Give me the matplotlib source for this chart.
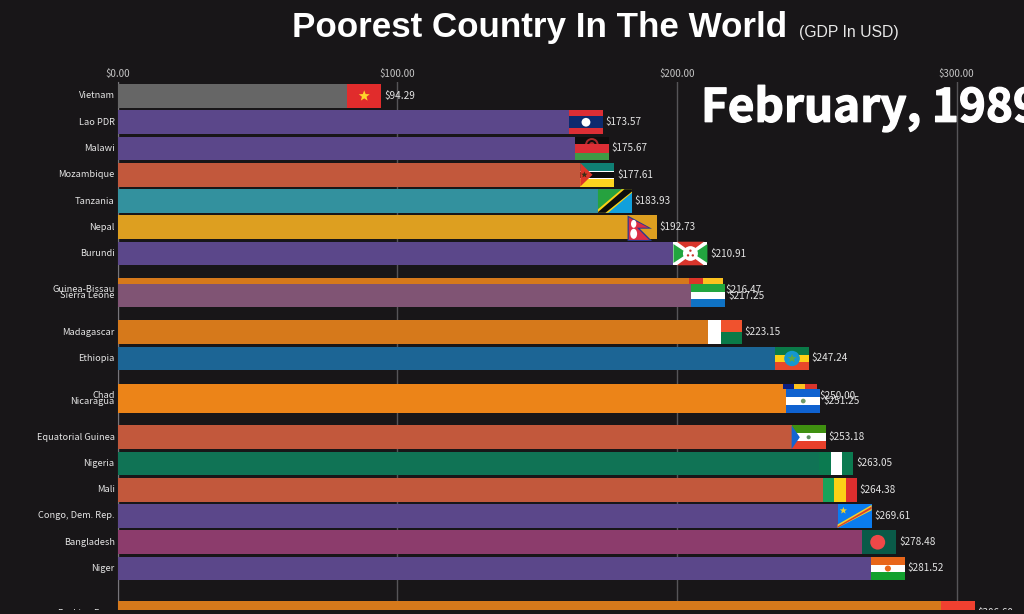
import numpy as np
import matplotlib
matplotlib.use("Agg")
import matplotlib.pyplot as plt
import matplotlib.patheffects as pe
from matplotlib.patches import Rectangle, Polygon, Ellipse
from matplotlib.transforms import Affine2D

BG = "#181618"
FONT = ["Noto Sans CJK JP", "DejaVu Sans"]

countries = ["Vietnam", "Lao PDR", "Malawi", "Mozambique", "Tanzania", "Nepal",
             "Burundi", "Guinea-Bissau", "Sierra Leone", "Madagascar", "Ethiopia",
             "Chad", "Nicaragua", "Equatorial Guinea", "Nigeria", "Mali",
             "Congo, Dem. Rep.", "Bangladesh", "Niger", "Burkina Faso"]
values = [94.29, 173.57, 175.67, 177.61, 183.93, 192.73, 210.91, 216.47, 217.25,
          223.15, 247.24, 250.00, 251.25, 253.18, 263.05, 264.38, 269.61, 278.48,
          281.52, 306.60]
# rank is fractional because the frame is caught mid-transition
ranks = [0, 1, 2, 3, 4, 5, 6, 7.39, 7.6, 9, 10, 11.41, 11.62, 13, 14, 15, 16, 17, 18, 19.7]
bar_colors = ["#666666", "#5b478a", "#5b478a", "#c2583c", "#33919e", "#dd9f20",
              "#5b478a", "#d6791b", "#805474", "#d6791b", "#1c6595", "#ec8418",
              "#ec8418", "#c2583c", "#107355", "#c2583c", "#5b478a", "#8c3c6c",
              "#5b478a", "#d6791b"]
flags = ["vn", "la", "mw", "mz", "tz", "np", "bi", "gw", "sl", "mg", "et", "td",
         "ni", "gq", "ng", "ml", "cd", "bd", "ne", "bf"]
xticks = [0, 100, 200, 300]

W_PX, H_PX = 1024, 614
X0_PX, TOP_PX = 117.5, 82
PX_PER_USD = 2.797
PX_PER_RANK = 26.25
BAR_PX = 23.6
FLAG_PX = 34

fig = plt.figure(figsize=(W_PX / 100, H_PX / 100), dpi=100, facecolor=BG)
ax = fig.add_axes([X0_PX / W_PX, 0, 1 - X0_PX / W_PX, 1 - TOP_PX / H_PX])
ax.set_facecolor(BG)
ax.set_xlim(0, (W_PX - X0_PX) / PX_PER_USD)
# rank 0 sits at y=96 px
ax.set_ylim((H_PX - 96) / PX_PER_RANK, (TOP_PX - 96) / PX_PER_RANK)
for s in ax.spines.values():
    s.set_visible(False)
ax.spines["left"].set_visible(True)
ax.spines["left"].set_color("#77757a")
ax.spines["left"].set_linewidth(0.8)
ax.set_yticks([])
ax.set_xticks(xticks)
ax.set_xticklabels([f"${t:.2f}" for t in xticks], family=FONT, fontsize=7.0, color="#c4c4c4")
ax.xaxis.tick_top()
ax.tick_params(axis="x", length=0, pad=2.5)
ax.grid(axis="x", color="#565558", lw=1.0)
ax.set_axisbelow(True)


def rect(tr, u0, v0, u1, v1, c, z):
    ax.add_patch(Rectangle((u0, v0), u1 - u0, v1 - v0, fc=c, ec="none", transform=tr, zorder=z))


def poly(tr, pts, c, z):
    ax.add_patch(Polygon(pts, closed=True, fc=c, ec="none", transform=tr, zorder=z))


def disc(tr, u, v, ru, c, z):
    # flag box is 34x24 px, keep discs round
    ax.add_patch(Ellipse((u, v), 2 * ru, 2 * ru * 34 / 24, fc=c, ec="none", transform=tr, zorder=z))


def star(tr, u, v, r, c, z):
    ang = np.pi / 2 + np.arange(10) * np.pi / 5
    rad = np.where(np.arange(10) % 2 == 0, r, r * 0.42)
    pts = np.c_[u + rad * np.cos(ang), v - rad * np.sin(ang) * 34 / 24]
    poly(tr, pts, c, z)


def hstripes(tr, cols, z):
    for i, c in enumerate(cols):
        rect(tr, 0, i / len(cols), 1, (i + 1) / len(cols), c, z)


def vstripes(tr, cols, z):
    for i, c in enumerate(cols):
        rect(tr, i / len(cols), 0, (i + 1) / len(cols), 1, c, z)


def draw_flag(code, right, rank, z):
    # local box: u 0..1 left to right, v 0..1 top to bottom
    w = FLAG_PX / PX_PER_USD
    h = BAR_PX / PX_PER_RANK
    tr = Affine2D().scale(w, h).translate(right - w, rank - h / 2) + ax.transData
    if code == "vn":
        rect(tr, 0, 0, 1, 1, "#e12c2c", z)
        star(tr, 0.5, 0.5, 0.17, "#ffd32a", z)
    elif code == "la":
        hstripes(tr, ["#dc2e35", "#0c2a6e", "#0c2a6e", "#dc2e35"], z)
        disc(tr, 0.5, 0.5, 0.13, "#ffffff", z)
    elif code == "mw":
        rect(tr, 0, 0, 1, 0.33, "#0d0d0d", z)
        disc(tr, 0.5, 0.34, 0.2, "#a82a2a", z)
        disc(tr, 0.5, 0.34, 0.14, "#0d0d0d", z)
        disc(tr, 0.5, 0.34, 0.08, "#a82a2a", z)
        rect(tr, 0, 0.33, 1, 0.67, "#dc2e35", z)
        rect(tr, 0, 0.67, 1, 1, "#3f9a45", z)
    elif code == "mz":
        rect(tr, 0, 0, 1, 0.33, "#0f7f74", z)
        rect(tr, 0, 0.33, 1, 0.7, "#ffffff", z)
        rect(tr, 0, 0.38, 1, 0.65, "#0d0d0d", z)
        rect(tr, 0, 0.7, 1, 1, "#fdd51f", z)
        poly(tr, [(0, 0), (0.36, 0.5), (0, 1)], "#dc3528", z)
        star(tr, 0.12, 0.5, 0.1, "#3a3016", z)
    elif code == "tz":
        poly(tr, [(0, 0), (1, 0), (0, 1)], "#26a23f", z)
        poly(tr, [(1, 0), (1, 1), (0, 1)], "#10a0dc", z)
        poly(tr, [(0, 0.85), (0.7, 0), (1, 0), (1, 0.15), (0.3, 1), (0, 1)], "#fcd116", z)
        poly(tr, [(0, 0.97), (0.78, 0), (1, 0), (1, 0.1), (0.22, 1), (0, 1)], "#0d0d0d", z)
    elif code == "np":
        # sits a little low and narrower than the rest
        tr2 = Affine2D().scale(0.72, 1.08).translate(0.147, 0.0) + tr
        poly(tr2, [(0, 0), (1, 0.52), (0.5, 0.52), (1, 1), (0, 1)], "#2a3a8f", z)
        poly(tr2, [(0.05, 0.08), (0.85, 0.48), (0.38, 0.48), (0.88, 0.96), (0.05, 0.96)], "#dc2e45", z)
        disc(tr2, 0.25, 0.33, 0.11, "#ffffff", z)
        disc(tr2, 0.25, 0.72, 0.14, "#ffffff", z)
    elif code == "bi":
        rect(tr, 0, 0, 1, 1, "#ffffff", z)
        poly(tr, [(0.1, 0), (0.9, 0), (0.5, 0.42)], "#d8352c", z)
        poly(tr, [(0.1, 1), (0.9, 1), (0.5, 0.58)], "#d8352c", z)
        poly(tr, [(0, 0.1), (0, 0.9), (0.42, 0.5)], "#22a53f", z)
        poly(tr, [(1, 0.1), (1, 0.9), (0.58, 0.5)], "#22a53f", z)
        disc(tr, 0.5, 0.5, 0.22, "#ffffff", z)
        disc(tr, 0.5, 0.38, 0.035, "#c8352c", z)
        disc(tr, 0.43, 0.58, 0.035, "#c8352c", z)
        disc(tr, 0.57, 0.58, 0.035, "#c8352c", z)
    elif code == "gw":
        rect(tr, 0, 0, 0.4, 1, "#dc3528", z)
        rect(tr, 0.4, 0, 1, 1, "#fcc21f", z)
    elif code == "sl":
        hstripes(tr, ["#22a53f", "#ffffff", "#0f72c4"], z)
    elif code == "mg":
        rect(tr, 0.33, 0, 1, 0.5, "#f0522e", z)
        rect(tr, 0.33, 0.5, 1, 1, "#0a7a48", z)
        rect(tr, 0, 0, 0.4, 1, "#ffffff", z)
    elif code == "et":
        hstripes(tr, ["#0a7a48", "#fcd116", "#e8472a"], z)
        disc(tr, 0.5, 0.5, 0.23, "#1597d0", z)
        star(tr, 0.5, 0.5, 0.14, "#5ba84a", z)
    elif code == "td":
        vstripes(tr, ["#0c1f80", "#fcc21f", "#d8352c"], z)
    elif code == "ni":
        hstripes(tr, ["#0f62d0", "#ffffff", "#0f62d0"], z)
        disc(tr, 0.5, 0.5, 0.07, "#6f9a6a", z)
    elif code == "gq":
        hstripes(tr, ["#3f9010", "#ffffff", "#e8402a"], z)
        poly(tr, [(0, 0), (0.24, 0.5), (0, 1)], "#1565d0", z)
        disc(tr, 0.5, 0.5, 0.06, "#5f8f60", z)
    elif code == "ng":
        vstripes(tr, ["#0b7a50", "#ffffff", "#0b7a50"], z)
    elif code == "ml":
        vstripes(tr, ["#17a35a", "#fcd116", "#dc2e2e"], z)
    elif code == "cd":
        rect(tr, 0, 0, 1, 1, "#0a7cf0", z)
        poly(tr, [(0, 0.86), (1, 0.03), (1, 0.26), (0, 1.0)], "#f2cf2a", z)
        poly(tr, [(0, 0.94), (1, 0.1), (1, 0.2), (0, 1.0)], "#d8402a", z)
        star(tr, 0.17, 0.27, 0.11, "#f2cf2a", z)
    elif code == "bd":
        rect(tr, 0, 0, 1, 1, "#0a5a48", z)
        disc(tr, 0.45, 0.5, 0.22, "#f04848", z)
    elif code == "ne":
        hstripes(tr, ["#e8661a", "#ffffff", "#12a02e"], z)
        disc(tr, 0.5, 0.5, 0.09, "#e8661a", z)
    else:
        hstripes(tr, ["#f04030", "#12a02e"], z)


bar_h = BAR_PX / PX_PER_RANK
for i, (name, val, rk, col, code) in enumerate(zip(countries, values, ranks, bar_colors, flags)):
    z = 3 + i
    ax.barh(rk, val, height=bar_h, color=col, zorder=z)
    draw_flag(code, val, rk, z + 0.5)
    ax.text(-1.0, rk, name, ha="right", va="center", family=FONT, fontsize=6.7,
            color="#e4e4e4", clip_on=False, zorder=40)
    ax.text(val + 1.0, rk, f"${val:.2f}", ha="left", va="center", family=FONT, fontsize=7.2,
            color="#e4e4e4", zorder=40)

# the frame is cut off a few pixels above the bottom edge
fig.add_artist(Rectangle((0, 0), 1, (H_PX - 609.5) / H_PX, transform=fig.transFigure,
                         fc=BG, ec="none", zorder=60))

fig.text(292 / W_PX, 1 - 28 / H_PX, "Poorest Country In The World", family="Liberation Sans",
         fontweight="bold", fontsize=25.2, color="white", ha="left", va="center")
fig.text(799 / W_PX, 1 - 32 / H_PX, "(GDP In USD)", family="Liberation Sans", fontsize=11.3,
         color="#e8e8e8", ha="left", va="center")
date = fig.text(701 / W_PX, 1 - 109 / H_PX, "February, 1989", family=FONT, fontweight="bold",
                fontsize=33, color="white", ha="left", va="center", zorder=50)
# reference letters are a bit heavier than the bold face
date.set_path_effects([pe.withStroke(linewidth=0.9, foreground="white")])

fig.savefig("out.png", dpi=100, facecolor=BG)
